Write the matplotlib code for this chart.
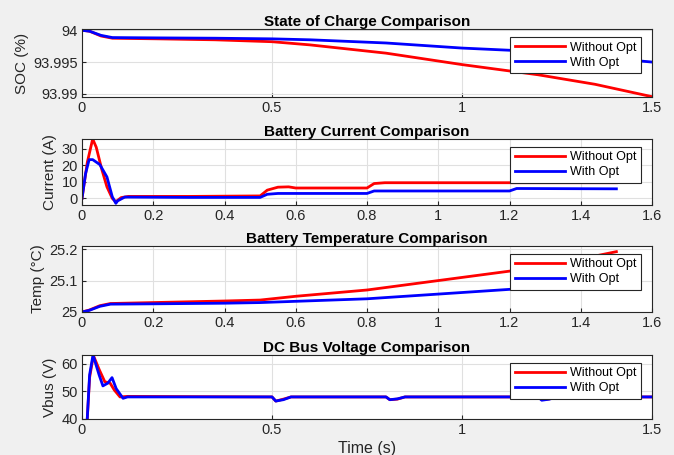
import matplotlib
matplotlib.use("Agg")
import matplotlib.pyplot as plt

# --- data ---
# State of charge (%)
t_soc = [0.0, 0.02, 0.05, 0.08, 0.2, 0.35, 0.5, 0.6, 0.8, 1.0, 1.2, 1.35, 1.5]
soc_no = [94.0, 93.99985, 93.9991, 93.99875, 93.99865, 93.9985, 93.9982, 93.9977, 93.9964, 93.9946, 93.9930, 93.9915, 93.98955]
soc_opt = [94.0, 93.99985, 93.9992, 93.99885, 93.9988, 93.99875, 93.99865, 93.9985, 93.9980, 93.9972, 93.99665, 93.9958, 93.9950]

# Battery current (A)
t_cur_no = [0.0, 0.015, 0.03, 0.04, 0.055, 0.07, 0.085, 0.095, 0.11, 0.13, 0.3, 0.5, 0.52, 0.55, 0.58, 0.6, 0.8, 0.82, 0.85, 1.2, 1.5]
cur_no = [0.0, 22.0, 36.0, 31.0, 18.0, 7.0, 0.0, -2.0, 0.5, 1.2, 1.2, 1.5, 5.0, 6.8, 7.0, 6.3, 6.3, 9.0, 9.5, 9.5, 9.5]
t_cur_opt = [0.0, 0.01, 0.02, 0.03, 0.05, 0.07, 0.085, 0.095, 0.1, 0.12, 0.3, 0.5, 0.52, 0.55, 0.8, 0.82, 1.2, 1.22, 1.5]
cur_opt = [0.0, 15.0, 23.5, 23.5, 20.5, 13.0, 1.0, -3.0, -1.5, 0.8, 0.6, 0.6, 2.5, 3.0, 3.0, 4.5, 4.5, 6.0, 5.8]

# Battery temperature (degC)
t_temp = [0.0, 0.02, 0.05, 0.08, 0.2, 0.4, 0.5, 0.6, 0.8, 1.0, 1.2, 1.35, 1.5]
temp_no = [25.0, 25.006, 25.02, 25.027, 25.03, 25.035, 25.038, 25.05, 25.07, 25.1, 25.13, 25.157, 25.192]
temp_opt = [25.0, 25.005, 25.018, 25.025, 25.026, 25.028, 25.03, 25.034, 25.042, 25.057, 25.072, 25.079, 25.086]

# DC bus voltage (V)
t_v_no = [0.0, 0.013, 0.02, 0.03, 0.045, 0.06, 0.074, 0.085, 0.1, 0.12, 0.5, 0.51, 0.53, 0.55, 0.8, 0.81, 0.83, 0.85, 1.2, 1.21, 1.23, 1.25, 1.5]
v_no = [0.0, 38.0, 55.0, 63.0, 58.0, 53.5, 53.0, 50.5, 48.0, 48.2, 48.0, 46.5, 47.2, 48.0, 48.0, 47.0, 47.2, 48.0, 48.0, 47.0, 47.3, 48.0, 48.0]
t_v_opt = [0.0, 0.013, 0.02, 0.029, 0.045, 0.055, 0.068, 0.079, 0.09, 0.108, 0.12, 0.5, 0.51, 0.53, 0.55, 0.8, 0.81, 0.83, 0.85, 1.2, 1.21, 1.23, 1.25, 1.5]
v_opt = [0.0, 38.0, 56.0, 63.2, 56.0, 52.0, 53.0, 55.0, 51.0, 47.5, 48.0, 48.0, 46.5, 47.0, 48.0, 48.0, 47.0, 47.3, 48.0, 48.0, 46.8, 47.2, 48.0, 48.0]

plt.rcParams['font.family'] = ['Liberation Sans', 'DejaVu Sans']

W, H = 674, 455
fig = plt.figure(figsize=(W / 100, H / 100), dpi=100, facecolor='#f0f0f0')

# axes boxes in pixels: (top, bottom)
boxes = [(29, 97), (139, 205), (246, 312), (355, 419)]
left, right = 82, 652


def make_ax(top, bottom):
    return fig.add_axes([left / W, 1 - bottom / H, (right - left) / W, (bottom - top) / H])


panels = [
    (t_soc, soc_no, t_soc, soc_opt, 'State of Charge Comparison', 'SOC (%)',
     (0, 1.5), (93.9895, 94.0002), [0, 0.5, 1, 1.5], [93.99, 93.995, 94.0], ['93.99', '93.995', '94']),
    (t_cur_no, cur_no, t_cur_opt, cur_opt, 'Battery Current Comparison', 'Current (A)',
     (0, 1.6), (-4, 36), [0, 0.2, 0.4, 0.6, 0.8, 1, 1.2, 1.4, 1.6], [0, 10, 20, 30], ['0', '10', '20', '30']),
    (t_temp, temp_no, t_temp, temp_opt, 'Battery Temperature Comparison', 'Temp (\u00b0C)',
     (0, 1.6), (25.0, 25.21), [0, 0.2, 0.4, 0.6, 0.8, 1, 1.2, 1.4, 1.6], [25.0, 25.1, 25.2], ['25', '25.1', '25.2']),
    (t_v_no, v_no, t_v_opt, v_opt, 'DC Bus Voltage Comparison', 'Vbus (V)',
     (0, 1.5), (40, 63.2), [0, 0.5, 1, 1.5], [40, 50, 60], ['40', '50', '60']),
]

for (top, bottom), p in zip(boxes, panels):
    tx1, y1, tx2, y2, title, ylab, xlim, ylim, xt, yt, ytl = p
    ax = make_ax(top, bottom)
    ax.plot(tx1, y1, color='#ff0000', lw=2.0, label='Without Opt')
    ax.plot(tx2, y2, color='#0000ff', lw=2.0, label='With Opt')
    ax.set_xlim(*xlim)
    ax.set_ylim(*ylim)
    ax.set_xticks(xt)
    ax.set_xticklabels([('%g' % v) for v in xt])
    ax.set_yticks(yt)
    ax.set_yticklabels(ytl)
    ax.grid(True, color='#e0e0e0', lw=0.8)
    ax.set_axisbelow(True)
    ax.tick_params(direction='in', length=3, labelsize=10.5, colors='#262626', pad=3)
    for s in ax.spines.values():
        s.set_color('#262626')
        s.set_linewidth(0.8)
    ax.set_title(title, fontsize=11, fontweight='bold', pad=2, color='#000000')
    ax.set_ylabel(ylab, fontsize=11, color='#262626', labelpad=3)
    leg = ax.legend(loc='upper right', bbox_to_anchor=(0.98, 0.88), fontsize=9,
                    handlelength=4.0, handletextpad=0.4, borderpad=0.35,
                    labelspacing=0.25, fancybox=False, framealpha=1.0, borderaxespad=0)
    leg.get_frame().set_edgecolor('#262626')
    leg.get_frame().set_linewidth(0.8)
    if title.startswith('DC'):
        ax.set_xlabel('Time (s)', fontsize=11.5, color='#262626', labelpad=3)

fig.savefig('out.png', dpi=100, facecolor=fig.get_facecolor())
